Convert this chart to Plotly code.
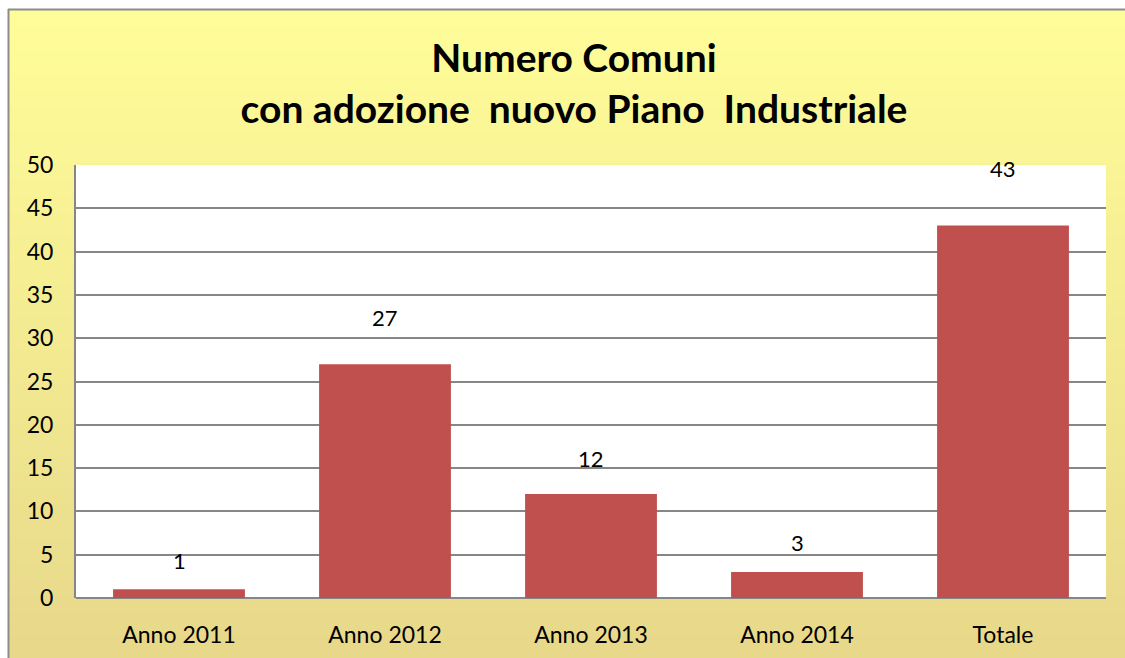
import plotly.graph_objects as go

categories = ["Anno 2011", "Anno 2012", "Anno 2013", "Anno 2014", "Totale"]
values = [1, 27, 12, 3, 43]
y_ticks = [0, 5, 10, 15, 20, 25, 30, 35, 40, 45, 50]

W, H = 1125, 658
ML, MR, MT, MB = 76, 19, 165, 60
PW = W - ML - MR
PH = H - MT - MB

def px_to_paper_x(px):
    return (px - ML) / PW

def px_to_paper_y(py):
    return (H - MB - py) / PH

fig = go.Figure()
fig.add_trace(go.Bar(
    x=categories, y=values,
    marker=dict(color="#C0504D", line=dict(width=0)),
    width=0.64,
    hoverinfo="x+y",
))

# data labels (Excel-like placement above bars)
for c, v in zip(categories, values):
    fig.add_annotation(x=c, y=v * 1.08 + 3.2, text=str(v), showarrow=False,
                       yanchor="middle",
                       font=dict(family="Lato", size=22, color="#000000"))

# gradient background bands
shapes = []
top_c = (255, 253, 153)
bot_c = (231, 216, 138)
y0p, y1p = 9, 660
n = 80
for i in range(n):
    a = y0p + (y1p - y0p) * i / n
    b = y0p + (y1p - y0p) * (i + 1) / n + 1
    t = i / (n - 1)
    col = tuple(round(top_c[k] + (bot_c[k] - top_c[k]) * t) for k in range(3))
    shapes.append(dict(type="rect", xref="paper", yref="paper", layer="below",
                       x0=px_to_paper_x(8), x1=px_to_paper_x(1125),
                       y0=px_to_paper_y(b), y1=px_to_paper_y(a),
                       fillcolor="rgb(%d,%d,%d)" % col, line=dict(width=0)))
# white plot area
shapes.append(dict(type="rect", xref="paper", yref="paper", layer="below",
                   x0=0, x1=1, y0=0, y1=1, fillcolor="white", line=dict(width=0)))
# outer border: top and left edges (right/bottom are outside the view)
shapes.append(dict(type="line", xref="paper", yref="paper", layer="below",
                   x0=px_to_paper_x(8), x1=px_to_paper_x(1125),
                   y0=px_to_paper_y(9.5), y1=px_to_paper_y(9.5),
                   line=dict(color="#8C8C8C", width=2)))
shapes.append(dict(type="line", xref="paper", yref="paper", layer="below",
                   x0=px_to_paper_x(8.5), x1=px_to_paper_x(8.5),
                   y0=px_to_paper_y(9), y1=px_to_paper_y(658),
                   line=dict(color="#8C8C8C", width=2)))

fig.update_layout(
    width=W, height=H,
    margin=dict(l=ML, r=MR, t=MT, b=MB, autoexpand=False),
    paper_bgcolor="white",
    plot_bgcolor="white",
    shapes=shapes,
    showlegend=False,
    bargap=0.36,
    font=dict(family="Lato", size=22, color="#000000"),
    title=dict(text="Numero Comuni<br>con adozione  nuovo Piano  Industriale",
               x=574 / W, xanchor="center",
               y=1 - 72 / H, yanchor="middle",
               font=dict(family="Lato", size=39, color="#000000", weight="bold")),
    xaxis=dict(showgrid=False, showline=False, zeroline=False, automargin=False,
               ticks="outside", ticklen=16, tickcolor="rgba(0,0,0,0)",
               tickfont=dict(size=23)),
    yaxis=dict(range=[0, 50], tickvals=y_ticks, showgrid=True, automargin=False,
               gridcolor="#868686", gridwidth=1.5,
               showline=True, linecolor="#868686", linewidth=2,
               zeroline=True, zerolinecolor="#868686", zerolinewidth=2,
               ticks="outside", ticklen=16, tickcolor="rgba(0,0,0,0)",
               tickfont=dict(size=23)),
)

fig.write_html("out.html",
               config={"displayModeBar": False},
               post_script="document.body.style.margin='0';"
                           "document.body.style.overflow='hidden';")
